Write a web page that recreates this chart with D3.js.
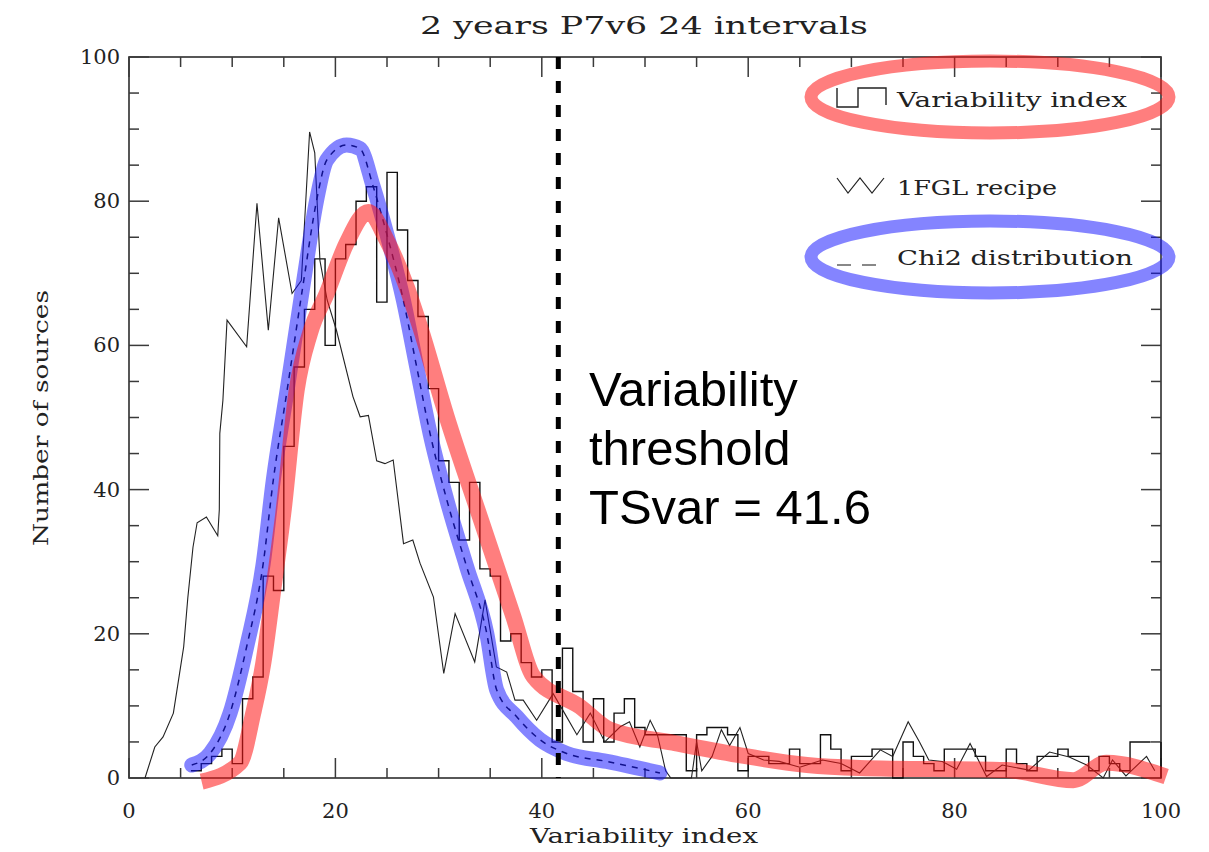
<!DOCTYPE html>
<html><head><meta charset="utf-8">
<script src="https://cdn.jsdelivr.net/npm/d3@7"></script>
<style>body{margin:0;background:#fff}svg{display:block}</style>
</head><body>
<svg id="c" width="1209" height="852"></svg>
<script>
// ---- data ----
const binStart = 6;
const histCounts = [1,2,3,4,2,11,14,28,26,46,57,65,72,60,72,74,80,82,66,84,76,69,64,54,44,41,33,41,29,28,19,20,16,14,15,5,18,12,5,11,5,9,11,7,6,6,6,6,1,6,7,7,6,1,3,3,2,2,4,2,2,6,4,1,3,3,4,4,0,5,3,2,1,4,4,4,3,1,1,4,2,1,3,3,4,3,3,1,3,2,1,5,5];
const fglX = [1.55,2.5,3.3,4.3,4.9,5.3,5.7,6.2,6.6,7.5,8.6,8.75,8.8,9.1,9.5,11.4,12.4,13.5,14.5,15.8,16.7,17.5,18.0,18.5,19.2,20.1,21.7,22.4,23.2,24.0,24.8,25.6,26.6,27.5,28.2,29.5,30.5,31.6,33.5,34.5,35.6,36.6,37.4,38.2,39.5,41.1,42.2,43.4,44.7,46.1,47.6,48.5,49.5,50.5,51.2,52.0,52.5,54.5,55.0,55.5,56.5,57.4,58.2,59.2,60.0,61.5,63.0,65.0,67.2,69.0,70.8,72.8,74.0,75.5,76.6,77.5,78.8,80.2,81.5,83.1,84.6,87.2,89.2,91.1,92.8,94.4,95.3,96.6,98.6,99.4];
const fglY = [0,4.3,5.7,9,14.5,18.2,25,32,35.4,36.2,33.6,37.2,47.8,52.4,63.5,59.8,79.7,62.1,77.7,67.2,69,89.6,86.7,71.8,66.3,62.1,52.9,50.1,50.3,44,43.6,44.1,32.5,33,29.8,25.1,14.5,22.8,16.1,24.7,15.4,14.7,10.8,10.8,8,11.7,9,6,9,5,7.1,7.8,4.3,8,6,1,0,0,5,1,3,6.7,4.5,7,3.4,2.5,2.3,1.5,2.5,2,0.7,3.9,3.0,7.8,5,2.5,2.3,1.2,4.8,0.2,1.8,1.1,3.6,2.9,1.8,0,2.5,0.3,3,1];
const redX = [7.04,10.76,12.04,13.01,13.98,14.95,16.25,17.54,19.16,21.09,23.19,24.97,26.91,28.2,30.79,34.01,37.24,39.18,43.7,46.6,52.7,59.0,65.7,70.8,85.0,91.5,94.7,100.5];
const redY = [-0.5,2.1,9.0,15.9,26.1,36.7,53.8,61.7,67.2,74.2,78.5,74.6,68.1,62.6,50.1,36.2,22.4,14.1,9.9,6.7,4.9,3.2,1.8,1.4,1.1,-0.3,2.1,0.2];
const chiX = [6.08,7.85,9.79,11.4,13.01,13.98,15.28,16.89,18.19,19.16,21.09,22.38,23.67,24.97,26.58,27.88,29.17,30.79,32.72,34.66,35.63,37.57,39.83,42.41,46.29,51.45];
const chiY = [1.8,3.4,9.0,18.2,29.8,41.3,53.4,68.6,80.2,85.7,87.8,87.3,82.0,75.5,66.3,57.0,47.8,38.6,29.3,20.1,12.2,8.5,5.3,3.4,2.3,0.7];
const threshold = 41.6;
const xTicks = [0,20,40,60,80,100];
const yTicks = [0,20,40,60,80,100];
const titleText = "2 years P7v6 24 intervals";
const xLabel = "Variability index";
const yLabel = "Number of sources";
const legendLabels = ["Variability index","1FGL recipe","Chi2 distribution"];
const noteLines = ["Variability","threshold","TSvar = 41.6"];

// ---- drawing ----
const svg = d3.select("#c");
const x = d3.scaleLinear().domain([0,100]).range([129,1161]);
const y = d3.scaleLinear().domain([0,100]).range([778,57]);
const serif = "'DejaVu Serif', 'Liberation Serif', serif";
const axCol = "#3a3a3a";

// frame
svg.append("rect").attr("x",x(0)).attr("y",y(100)).attr("width",x(100)-x(0)).attr("height",y(0)-y(100))
  .attr("fill","none").attr("stroke",axCol).attr("stroke-width",1.7);

// ticks (inward on all four sides)
const minor = d3.range(0,101,5);
const tk = svg.append("g").attr("stroke",axCol).attr("stroke-width",1.5);
minor.forEach(v=>{
  const L = (v%20===0)?20:10;
  tk.append("line").attr("x1",x(v)).attr("x2",x(v)).attr("y1",y(0)).attr("y2",y(0)-L);
  tk.append("line").attr("x1",x(v)).attr("x2",x(v)).attr("y1",y(100)).attr("y2",y(100)+L);
  tk.append("line").attr("y1",y(v)).attr("y2",y(v)).attr("x1",x(0)).attr("x2",x(0)+L);
  tk.append("line").attr("y1",y(v)).attr("y2",y(v)).attr("x1",x(100)).attr("x2",x(100)-L);
});
// tick labels
svg.append("g").selectAll("text").data(xTicks).join("text")
  .attr("x",d=>x(d)).attr("y",818).attr("text-anchor","middle")
  .attr("font-family",serif).attr("font-size",21).attr("fill","#222").text(d=>d);
svg.append("g").selectAll("text").data(yTicks).join("text")
  .attr("x",120).attr("y",d=>y(d)+7).attr("text-anchor","end")
  .attr("font-family",serif).attr("font-size",21).attr("fill","#222").text(d=>d);

// title & axis labels
svg.append("text").attr("x",644).attr("y",34).attr("text-anchor","middle")
  .attr("font-family",serif).attr("font-size",25).attr("fill","#222")
  .attr("textLength",448).attr("lengthAdjust","spacingAndGlyphs").text(titleText);
svg.append("text").attr("x",644).attr("y",843).attr("text-anchor","middle")
  .attr("font-family",serif).attr("font-size",21).attr("fill","#222")
  .attr("textLength",228).attr("lengthAdjust","spacingAndGlyphs").text(xLabel);
svg.append("text").attr("transform","translate(48,418) rotate(-90)").attr("text-anchor","middle")
  .attr("font-family",serif).attr("font-size",21).attr("fill","#222")
  .attr("textLength",256).attr("lengthAdjust","spacingAndGlyphs").text(yLabel);

// histogram (step)
const histPts = histCounts.map((c,i)=>[binStart+i,c]);
histPts.push([binStart+histCounts.length, histCounts[histCounts.length-1]]);
const stepLine = d3.line().x(d=>x(d[0])).y(d=>y(d[1])).curve(d3.curveStepAfter);
svg.append("path").attr("d",stepLine(histPts)).attr("fill","none").attr("stroke","#111").attr("stroke-width",1.4);
svg.append("line").attr("x1",x(100)).attr("x2",x(100)).attr("y1",y(histCounts[histCounts.length-1])).attr("y2",y(0))
  .attr("stroke","#111").attr("stroke-width",1.4);

// 1FGL recipe line
const ln = d3.line().x(d=>x(d[0])).y(d=>y(d[1]));
const smooth = d3.line().x(d=>x(d[0])).y(d=>y(d[1])).curve(d3.curveMonotoneX);
svg.append("path").attr("d",ln(fglX.map((v,i)=>[v,fglY[i]]))).attr("fill","none")
  .attr("stroke","#222").attr("stroke-width",1.1);

// chi2 dashed
const chiPts = chiX.map((v,i)=>[v,chiY[i]]);
svg.append("path").attr("d",smooth(chiPts)).attr("fill","none").attr("stroke","#111")
  .attr("stroke-width",1.5).attr("stroke-dasharray","6,6");
// blue band
svg.append("path").attr("d",smooth(chiPts)).attr("fill","none").attr("stroke","rgba(20,20,255,0.52)")
  .attr("stroke-width",15).attr("stroke-linejoin","round").attr("stroke-linecap","round");
// red band
const redPts = redX.map((v,i)=>[v,redY[i]]);
svg.append("path").attr("d",smooth(redPts)).attr("fill","none").attr("stroke","rgba(255,20,20,0.55)")
  .attr("stroke-width",16).attr("stroke-linejoin","round");

// threshold line
svg.append("line").attr("x1",x(threshold)).attr("x2",x(threshold)).attr("y1",y(100)).attr("y2",y(0))
  .attr("stroke","#000").attr("stroke-width",5).attr("stroke-dasharray","12,12");

// threshold note
const note = svg.append("text").attr("font-family","'Liberation Sans', Arial, sans-serif").attr("font-size",49).attr("fill","#000");
noteLines.forEach((t,i)=>note.append("tspan").attr("x",589).attr("y",406+i*59).text(t));

// legend
const lg = svg.append("g");
lg.append("path").attr("d","M837,88V107H858V88H886V105").attr("fill","none").attr("stroke","#222").attr("stroke-width",1.4);
lg.append("path").attr("d","M837,178L848,193L860,178L872,193L884,178").attr("fill","none").attr("stroke","#222").attr("stroke-width",1.2);
lg.append("path").attr("d","M837,265H851M862,265H876").attr("fill","none").attr("stroke","#888").attr("stroke-width",2);
const legY = [107,195,265];
const legW = [230,160,236];
legendLabels.forEach((t,i)=>lg.append("text").attr("x",897).attr("y",legY[i])
  .attr("font-family",serif).attr("font-size",21).attr("fill","#222")
  .attr("textLength",legW[i]).attr("lengthAdjust","spacingAndGlyphs").text(t));
// highlight ellipses
svg.append("ellipse").attr("cx",990).attr("cy",97).attr("rx",179).attr("ry",36)
  .attr("fill","none").attr("stroke","rgba(255,20,20,0.55)").attr("stroke-width",13);
svg.append("ellipse").attr("cx",990).attr("cy",257).attr("rx",179).attr("ry",36)
  .attr("fill","none").attr("stroke","rgba(20,20,255,0.52)").attr("stroke-width",13);
</script>
</body></html>
